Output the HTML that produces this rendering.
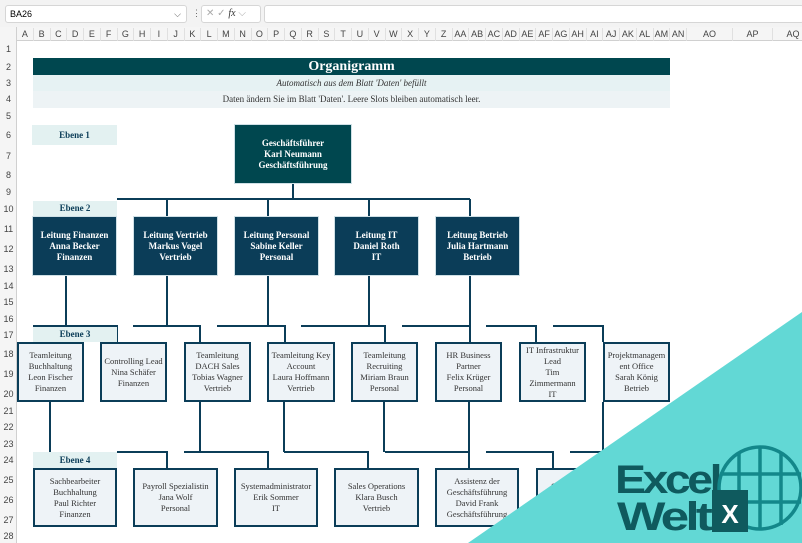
<!DOCTYPE html>
<html><head><meta charset="utf-8"><style>
*{margin:0;padding:0;box-sizing:border-box}
body{width:802px;height:543px;overflow:hidden;background:#fff;position:relative;font-family:"Liberation Serif",serif}
.a{position:absolute}
.hdr{background:#f3f3f3}
.ch{position:absolute;top:28px;height:13px;font:9px "Liberation Sans",sans-serif;color:#444;text-align:center;line-height:13px}
.rn{position:absolute;left:0;width:17px;font:9px "Liberation Sans",sans-serif;color:#444;text-align:center}
.l2{position:absolute;background:#0b3d58;color:#fff;font-weight:bold;font-size:9px;line-height:11px;display:flex;align-items:center;justify-content:center;text-align:center;border:1px solid #cfe0e6}
.b{position:absolute;background:#eef3f7;border:2px solid #0b3d58;color:#333;font-size:8.5px;line-height:11px;display:flex;align-items:center;justify-content:center;text-align:center;white-space:nowrap}
.lab{position:absolute;background:#e3f1f1;color:#0b3d58;font-weight:bold;font-size:9px;text-align:center}
</style></head><body>
<div class="a hdr" style="left:0;top:0;width:802px;height:27px"></div>
<div class="a" style="left:5px;top:5px;width:182px;height:18px;background:#fff;border:1px solid #d6d6d6;border-radius:3px;font:9px 'Liberation Sans',sans-serif;line-height:16px;padding-left:4px">BA26<span style="position:absolute;right:5px;color:#555">⌵</span></div>
<div class="a" style="left:192px;top:8px;font:9px sans-serif;color:#666">⋮</div>
<div class="a" style="left:201px;top:5px;width:60px;height:18px;background:#fff;border:1px solid #d6d6d6;border-radius:3px;font:10px 'Liberation Sans',sans-serif;color:#aaa;line-height:16px;padding-left:4px">✕ ✓ <i style="color:#333;font-family:'Liberation Serif'">fx</i> ⌵</div>
<div class="a" style="left:264px;top:5px;width:540px;height:18px;background:#fff;border:1px solid #d6d6d6;border-radius:3px"></div>
<div class="a" style="left:0;top:27px;width:802px;height:14px;background:#f5f5f5;border-bottom:1px solid #d0d0d0"></div>
<div class="a" style="left:0;top:27px;width:17px;height:516px;background:#f5f5f5;border-right:1px solid #d0d0d0"></div>
<div id="cols"></div>
<div id="rows"></div>

<div class="a" style="left:33px;top:58px;width:637px;height:17px;background:#00474f;color:#fff;font-weight:bold;font-size:14px;text-align:center;line-height:17px">Organigramm</div>
<div class="a" style="left:33px;top:75px;width:637px;height:16px;background:#e6f2f3;color:#333;font-style:italic;font-size:9px;text-align:center;line-height:16px">Automatisch aus dem Blatt 'Daten' befüllt</div>
<div class="a" style="left:33px;top:91px;width:637px;height:17px;background:#edf3f5;color:#333;font-size:9px;text-align:center;line-height:17px">Daten ändern Sie im Blatt 'Daten'. Leere Slots bleiben automatisch leer.</div>

<svg class="a" style="left:0;top:0" width="802" height="543">
<g stroke="#0b3d58" stroke-width="2" fill="none">
<path d="M293 184V199M117 199H470M167 199V216M268 199V216M369 199V216M470 199V216"/>
<path d="M66 276V326M167 276V326M268 276V326M369 276V326M470 276V342"/>
<path d="M33 326H117V342M133 326H200V342M217 326H285V342M301 326H385V342M402 326H470M486 326H536V342M553 326H603V342"/>
<path d="M50 402V452M200 402V452M284 402V452M384 402V452M469 402V468M603 402V452"/>
<path d="M117 452H167V468M184 452H268V468M284 452H368V468M385 452H469M486 452H553V468M570 452H603"/>
</g></svg>

<div class="lab" style="left:32px;top:125px;width:85px;height:20px;line-height:20px">Ebene 1</div>
<div class="lab" style="left:33px;top:201px;width:84px;height:15px;line-height:15px">Ebene 2</div>
<div class="lab" style="left:33px;top:327px;width:84px;height:15px;line-height:15px">Ebene 3</div>
<div class="lab" style="left:33px;top:452px;width:84px;height:16px;line-height:16px">Ebene 4</div>

<div class="l2" style="left:234px;top:124px;width:118px;height:60px;background:#00474f">Geschäftsführer<br>Karl Neumann<br>Geschäftsführung</div>
<div class="l2" style="left:32px;top:216px;width:85px;height:60px">Leitung Finanzen<br>Anna Becker<br>Finanzen</div>
<div class="l2" style="left:133px;top:216px;width:85px;height:60px">Leitung Vertrieb<br>Markus Vogel<br>Vertrieb</div>
<div class="l2" style="left:234px;top:216px;width:85px;height:60px">Leitung Personal<br>Sabine Keller<br>Personal</div>
<div class="l2" style="left:334px;top:216px;width:85px;height:60px">Leitung IT<br>Daniel Roth<br>IT</div>
<div class="l2" style="left:435px;top:216px;width:85px;height:60px">Leitung Betrieb<br>Julia Hartmann<br>Betrieb</div>

<div class="b" style="left:17px;top:342px;width:67px;height:60px">Teamleitung<br>Buchhaltung<br>Leon Fischer<br>Finanzen</div>
<div class="b" style="left:100px;top:342px;width:67px;height:60px">Controlling Lead<br>Nina Schäfer<br>Finanzen</div>
<div class="b" style="left:184px;top:342px;width:67px;height:60px">Teamleitung<br>DACH Sales<br>Tobias Wagner<br>Vertrieb</div>
<div class="b" style="left:267px;top:342px;width:68px;height:60px">Teamleitung Key<br>Account<br>Laura Hoffmann<br>Vertrieb</div>
<div class="b" style="left:351px;top:342px;width:67px;height:60px">Teamleitung<br>Recruiting<br>Miriam Braun<br>Personal</div>
<div class="b" style="left:435px;top:342px;width:67px;height:60px">HR Business<br>Partner<br>Felix Krüger<br>Personal</div>
<div class="b" style="left:519px;top:342px;width:67px;height:60px">IT Infrastruktur<br>Lead<br>Tim<br>Zimmermann<br>IT</div>
<div class="b" style="left:603px;top:342px;width:67px;height:60px">Projektmanagem<br>ent Office<br>Sarah König<br>Betrieb</div>

<div class="b" style="left:33px;top:468px;width:84px;height:59px">Sachbearbeiter<br>Buchhaltung<br>Paul Richter<br>Finanzen</div>
<div class="b" style="left:133px;top:468px;width:85px;height:59px">Payroll Spezialistin<br>Jana Wolf<br>Personal</div>
<div class="b" style="left:234px;top:468px;width:84px;height:59px">Systemadministrator<br>Erik Sommer<br>IT</div>
<div class="b" style="left:334px;top:468px;width:85px;height:59px">Sales Operations<br>Klara Busch<br>Vertrieb</div>
<div class="b" style="left:435px;top:468px;width:84px;height:59px">Assistenz der<br>Geschäftsführung<br>David Frank<br>Geschäftsführung</div>
<div class="b" style="left:536px;top:468px;width:84px;height:59px">Office Manager<br>&nbsp;<br>&nbsp;</div>

<svg class="a" style="left:0;top:0" width="802" height="543">
<polygon points="802,312 468,543 802,543" fill="#62d8d5"/>
<text x="615" y="493" font-family="Liberation Sans,sans-serif" font-weight="bold" font-size="40" fill="#0f5a5e" letter-spacing="-3" textLength="104" lengthAdjust="spacingAndGlyphs">Excel</text>
<text x="617" y="530" font-family="Liberation Sans,sans-serif" font-weight="bold" font-size="40" fill="#0f5a5e" letter-spacing="-3" textLength="92" lengthAdjust="spacingAndGlyphs">Welt</text>
<g stroke="#13878a" stroke-width="3.5" fill="none">
<circle cx="760" cy="488" r="41"/>
<path d="M720 474H801M720 502H801M739 452V525M760 447V529M781 452V525"/>
</g>
<rect x="712" y="490" width="36" height="42" fill="#0f5a5e"/>
<text x="730" y="523" text-anchor="middle" font-family="Liberation Sans,sans-serif" font-weight="bold" font-size="26" fill="#fff">X</text>
</svg>

<script>
var c=["A","B","C","D","E","F","G","H","I","J","K","L","M","N","O","P","Q","R","S","T","U","V","W","X","Y","Z","AA","AB","AC","AD","AE","AF","AG","AH","AI","AJ","AK","AL","AM","AN"],h="";
for(var i=0;i<c.length;i++){h+='<div class="ch" style="left:'+(17+i*16.75)+'px;width:16.75px;border-right:1px solid #e0e0e0">'+c[i]+'</div>';}
h+='<div class="ch" style="left:687px;width:46px;border-right:1px solid #e0e0e0">AO</div><div class="ch" style="left:733px;width:40px;border-right:1px solid #e0e0e0">AP</div><div class="ch" style="left:773px;width:40px">AQ</div>';
document.getElementById("cols").innerHTML=h;
var r=[50,68,84,100,117,136,157,176,193,210,230,250,270,287,303,320,336,355,375,395,412,428,445,461,481,501,521,537],s="";
for(var j=0;j<r.length;j++){s+='<div class="rn" style="top:'+(r[j]-6)+'px">'+(j+1)+'</div>';}
document.getElementById("rows").innerHTML=s;
</script>
</body></html>
